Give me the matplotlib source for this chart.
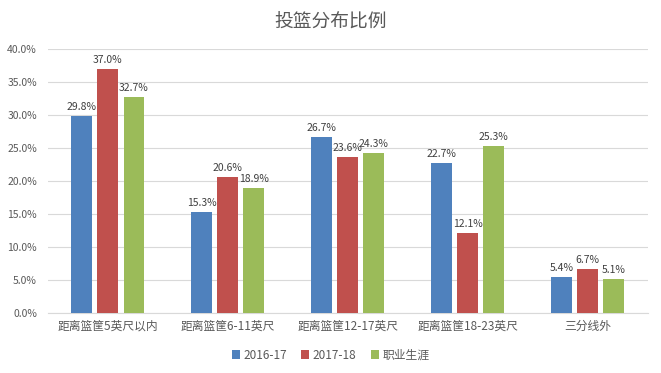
import matplotlib
matplotlib.use("Agg")
import matplotlib.pyplot as plt
import numpy as np

plt.rcParams['font.family'] = ['Noto Sans CJK SC', 'DejaVu Sans']

categories = ["距离篮筐5英尺以内", "距离篮筐6-11英尺", "距离篮筐12-17英尺", "距离篮筐18-23英尺", "三分线外"]
series_names = ["2016-17", "2017-18", "职业生涯"]
s2016 = [29.8, 15.3, 26.7, 22.7, 5.4]
s2017 = [37.0, 20.6, 23.6, 12.1, 6.7]
career = [32.7, 18.9, 24.3, 25.3, 5.1]
colors = ["#4F81BD", "#C0504D", "#9BBB59"]
yticks = [0, 5, 10, 15, 20, 25, 30, 35, 40]

fig = plt.figure(figsize=(6.61, 3.73), dpi=100)
ax = fig.add_axes([0.0726, 0.1609, 0.9074, 0.7077])

x = np.arange(len(categories))
w = 0.175
step = 0.217
txtc = "#595959"
for i, (vals, name, c) in enumerate(zip([s2016, s2017, career], series_names, colors)):
    pos = x + (i - 1) * step
    ax.bar(pos, vals, width=w, color=c, label=name, zorder=3)
    for p, v in zip(pos, vals):
        ax.text(p, v + 0.6, f"{v:.1f}%", ha="center", va="bottom", fontsize=7.5, color="#404040", zorder=4)

ax.set_xlim(-0.5, len(categories) - 0.5)
ax.set_ylim(0, 40)
ax.set_yticks(yticks)
ax.set_yticklabels([f"{t:.1f}%" for t in yticks], fontsize=7.5, color=txtc)
ax.set_xticks(x)
ax.set_xticklabels(categories, fontsize=8.5, color=txtc)
ax.tick_params(axis="both", length=0)
ax.tick_params(axis="y", pad=8)
ax.tick_params(axis="x", pad=5)
ax.grid(axis="y", color="#D9D9D9", linewidth=0.8, zorder=0)
for s in ["top", "right", "left"]:
    ax.spines[s].set_visible(False)
ax.spines["bottom"].set_color("#D9D9D9")

fig.text(0.5, 0.94, "投篮分布比例", ha="center", va="center", fontsize=13.5, color="#595959")

leg = fig.legend(loc="center", bbox_to_anchor=(0.5, 0.048), ncol=3, frameon=False,
                 fontsize=8.5, handlelength=0.7, handleheight=0.7, handletextpad=0.3, columnspacing=1.2)
for t in leg.get_texts():
    t.set_color(txtc)

fig.savefig("out.png", dpi=100)
